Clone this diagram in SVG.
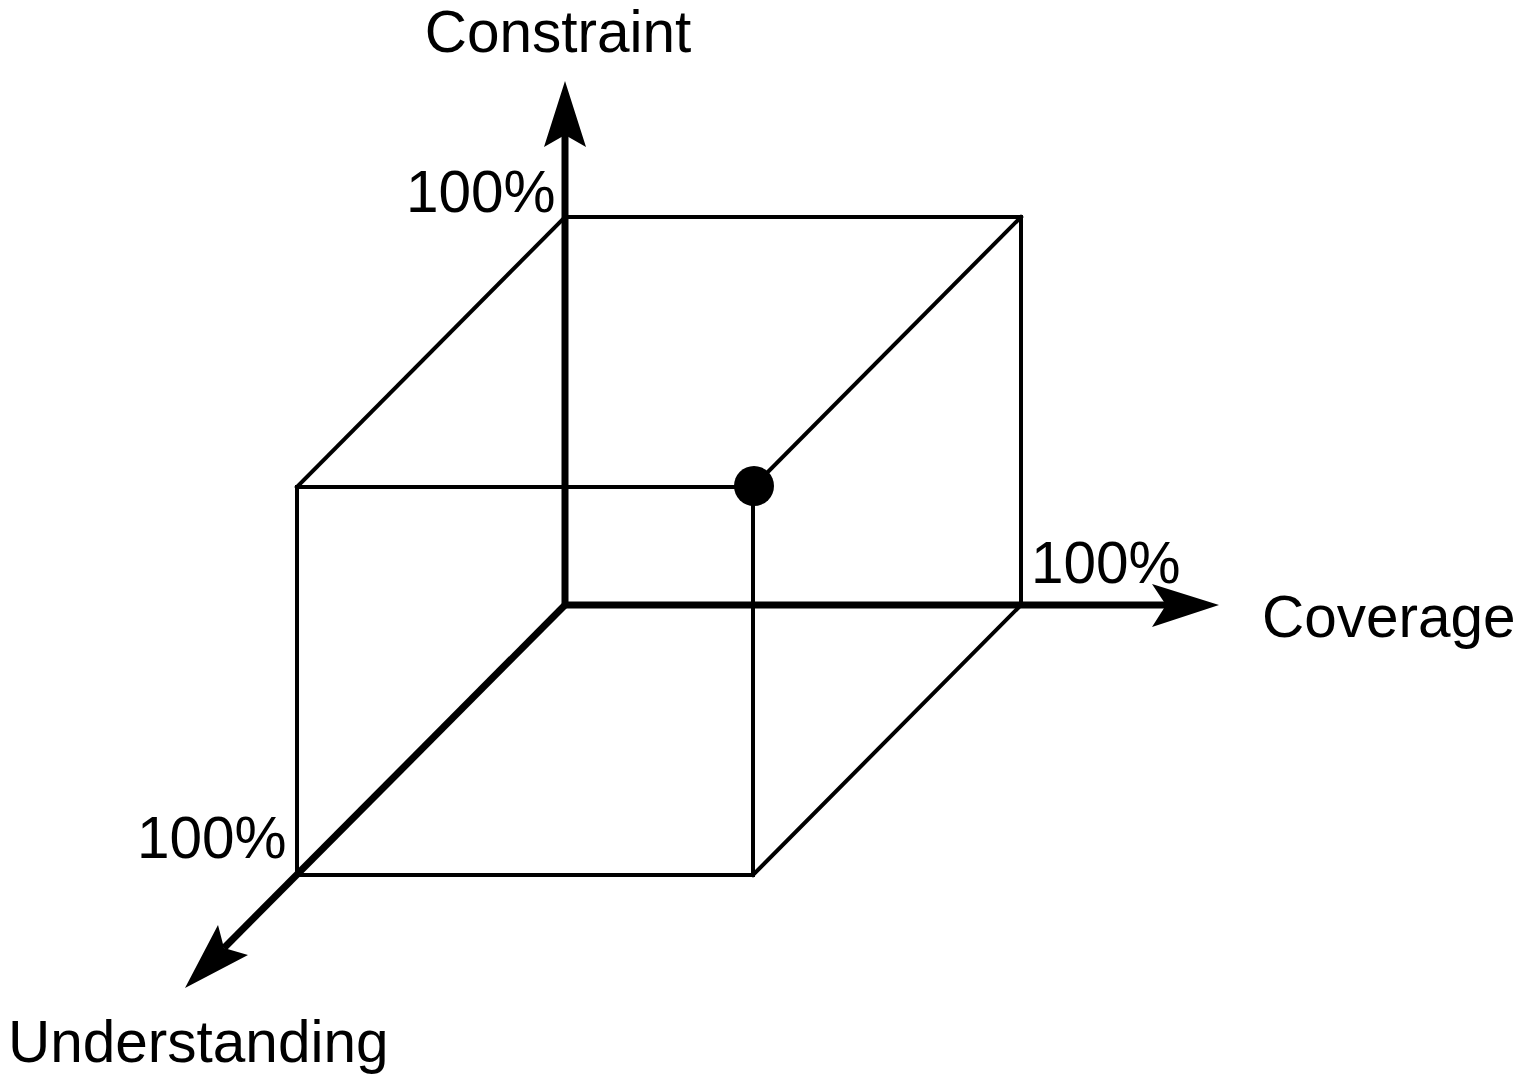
<svg xmlns="http://www.w3.org/2000/svg" width="1518" height="1079" viewBox="0 0 1518 1079">
<style>
.thin{stroke:#000;stroke-width:4;fill:none;stroke-linecap:square}
.axis{stroke:#000;stroke-width:7;fill:none}
.head{fill:#000;stroke:none}
text{font-family:"Liberation Sans",Arial,sans-serif;font-size:58.5px;fill:#000}
</style>
<rect width="1518" height="1079" fill="#fff"/>
<g id="connectors">
<polyline class="thin" points="565,217 1021,217 1021,605"/>
<polyline class="thin" points="297,875 297,487 753,487 753,875 297,875"/>
<line class="thin" x1="297" y1="487" x2="565" y2="217"/>
<line class="thin" x1="753" y1="487" x2="1021" y2="217"/>
<line class="thin" x1="753" y1="875" x2="1021" y2="605"/>
<line class="axis" x1="565" y1="608" x2="565" y2="135"/>
<polygon class="head" points="565,81 586,147 565,135 544,147"/>
<line class="axis" x1="562" y1="605" x2="1168" y2="605"/>
<polygon class="head" points="1219,605 1152,627 1166,605 1152,584"/>
<line class="axis" x1="567" y1="603" x2="224" y2="948"/>
<polygon class="head" points="185,988 218,925 224,948 248,955"/>
</g>
<g id="point"><circle cx="754" cy="486" r="20" fill="#000"/></g>
<g id="labels">
<text x="558" y="52" text-anchor="middle">Constraint</text>
<text x="1262" y="637">Coverage</text>
<text x="8" y="1062">Understanding</text>
<text x="406" y="212">100%</text>
<text x="1031" y="583">100%</text>
<text x="137" y="858">100%</text>
</g>
</svg>
